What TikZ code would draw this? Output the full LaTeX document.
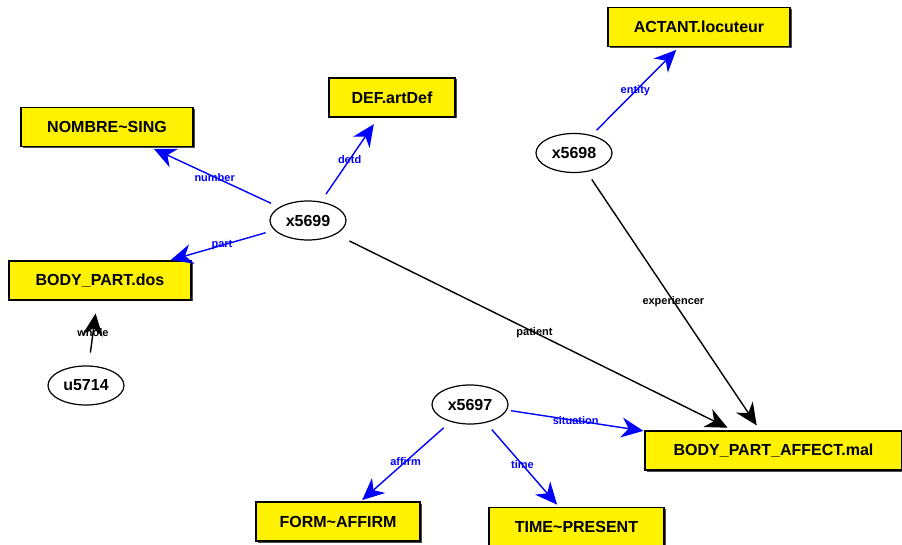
\documentclass[tikz,border=0pt]{standalone}
\usepackage{fontspec}
\setmainfont{Liberation Sans}
\usepackage{tikz}
\usetikzlibrary{positioning,arrows.meta,shapes.geometric,shadows}
\tikzset{
  rel/.style={-{Stealth[length=22pt, width=20pt, inset=7pt]}, line width=1.4pt, shorten <=9pt, shorten >=4pt},
  every node/.style={anchor=center}
}

\begin{document}
\begin{tikzpicture}[
  x=1pt, y=-1pt,
  conceptbox/.style={draw=black, fill=yellow, line width=1.2pt, minimum height=39pt, inner sep=0pt, font=\fontsize{16}{18}\selectfont\bfseries, drop shadow={shadow xshift=1.5pt, shadow yshift=-1.5pt, fill=black!70, opacity=1}},
  varellipse/.style={ellipse, draw=black, fill=white, line width=1.2pt, minimum width=76pt, minimum height=39pt, inner sep=0pt, font=\fontsize{16}{18}\selectfont\bfseries},
  bluerel/.style={rel, draw=blue, text=blue},
  blackrel/.style={rel, draw=black, text=black},
  elabel/.style={font=\fontsize{11}{12}\selectfont\bfseries, inner sep=0pt}
]
\useasboundingbox (0,0) rectangle (902,545);

% concept boxes
\node[conceptbox, minimum width=172pt] (nombre) at (107,127) {NOMBRE\textasciitilde SING};
\node[conceptbox, minimum width=126pt] (artdef) at (392,97.5) {DEF.artDef};
\node[conceptbox, minimum width=182pt] (actant) at (699,27) {ACTANT.locuteur};
\node[conceptbox, minimum width=182pt] (dos) at (100,280.5) {BODY\_PART.dos};
\node[conceptbox, minimum width=257pt] (mal) at (773.5,450.5) {BODY\_PART\_AFFECT.mal};
\node[conceptbox, minimum width=164pt] (affirm) at (338,521.5) {FORM\textasciitilde AFFIRM};
\node[conceptbox, minimum width=175pt] (present) at (576.5,527) {TIME\textasciitilde PRESENT};

% variables
\node[varellipse] (x5699) at (308,220.5) {x5699};
\node[varellipse] (x5698) at (574,153) {x5698};
\node[varellipse] (x5697) at (470,404.5) {x5697};
\node[varellipse] (u5714) at (86,385.5) {u5714};

% relations
\draw[bluerel] (x5699) -- node[elabel] {number} (nombre);
\draw[bluerel, shorten >=8pt] (x5699) -- node[elabel] {detd} (artdef);
\draw[bluerel, shorten >=1pt] (x5699) -- node[elabel] {part} (dos);
\draw[blackrel, shorten <=15pt, shorten >=6pt] (x5699) -- node[elabel] {patient} (mal);
\draw[bluerel, shorten <=7pt] (x5698) -- node[elabel] {entity} (actant);
\draw[blackrel, shorten >=6pt] (x5698) -- node[elabel] {experiencer} (mal);
\draw[blackrel, shorten <=13pt, shorten >=13pt] (u5714) -- node[elabel] {whole} (dos);
\draw[bluerel, shorten <=4pt, shorten >=1pt] (x5697) -- node[elabel] {situation} (mal);
\draw[bluerel, shorten >=2pt] (x5697) -- node[elabel] {affirm} (affirm);
\draw[bluerel, shorten >=3pt] (x5697) -- node[elabel] {time} (present);

\end{tikzpicture}
\end{document}
